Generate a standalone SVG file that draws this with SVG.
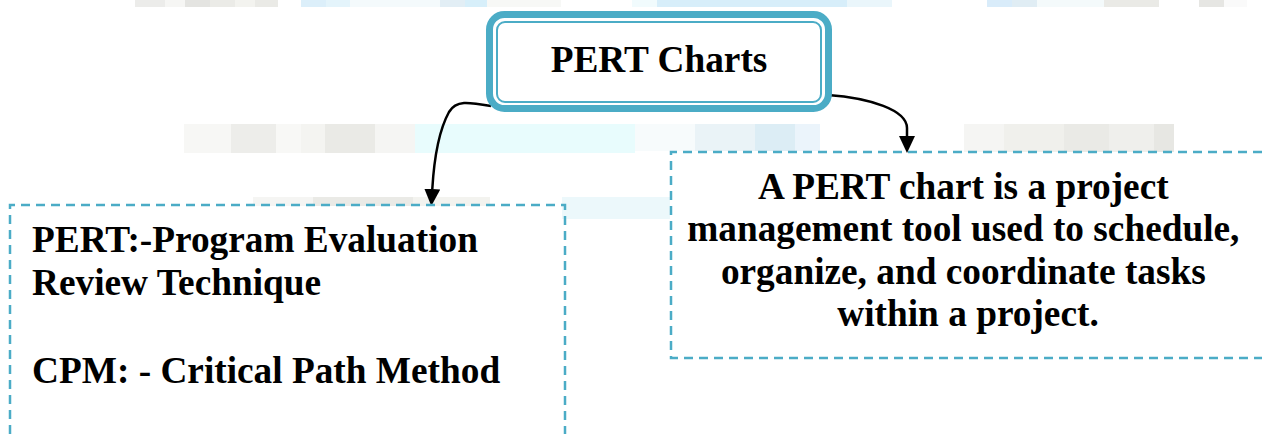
<svg xmlns="http://www.w3.org/2000/svg" width="1262" height="434" viewBox="0 0 1262 434">
<defs>
<style>
.t{font-family:"Liberation Serif","Times New Roman",serif;font-weight:bold;font-size:37.3px;fill:#000}
.dash{fill:none;stroke:#4bacc6;stroke-width:2.5;stroke-dasharray:9 6}
.conn{fill:none;stroke:#000;stroke-width:2.5}
</style>
<marker id="ah" markerWidth="17" markerHeight="16" refX="0" refY="8" orient="auto" markerUnits="userSpaceOnUse" viewBox="0 0 17 16">
<path d="M0,0 L17,8 L0,16 Z" fill="#000"/>
</marker>
</defs>
<rect width="1262" height="434" fill="#fff"/>
<g id="background" opacity="0.9">
<rect x="135" y="0" width="30" height="7" fill="#ebebe8"/>
<rect x="165" y="0" width="20" height="7" fill="#f6f6f3"/>
<rect x="185" y="0" width="25" height="7" fill="#e2e2de"/>
<rect x="210" y="0" width="25" height="7" fill="#e9e9e5"/>
<rect x="235" y="0" width="20" height="7" fill="#f2f2ee"/>
<rect x="255" y="0" width="23" height="7" fill="#e8e8e4"/>
<rect x="301" y="0" width="25" height="7" fill="#d9eefa"/>
<rect x="326" y="0" width="24" height="7" fill="#e2f3fb"/>
<rect x="350" y="0" width="90" height="7" fill="#f3fafc"/>
<rect x="440" y="0" width="25" height="7" fill="#dfedf4"/>
<rect x="465" y="0" width="22" height="7" fill="#d3eefa"/>
<rect x="487" y="0" width="74" height="7" fill="#f7f8f6"/>
<rect x="632" y="0" width="25" height="7" fill="#f0fbfd"/>
<rect x="657" y="0" width="190" height="7" fill="#d3edfa"/>
<rect x="847" y="0" width="45" height="7" fill="#e8f6fb"/>
<rect x="987" y="0" width="25" height="7" fill="#d5ebfa"/>
<rect x="1012" y="0" width="25" height="7" fill="#ddecf3"/>
<rect x="1037" y="0" width="67" height="7" fill="#f3fafb"/>
<rect x="1104" y="0" width="55" height="7" fill="#e8e8e4"/>
<rect x="1199" y="0" width="25" height="7" fill="#e4e4e0"/>
<rect x="1224" y="0" width="23" height="7" fill="#fafafa"/>
<rect x="184" y="124" width="47" height="29" fill="#f7f7f4"/>
<rect x="231" y="124" width="45" height="29" fill="#ececE8"/>
<rect x="276" y="124" width="25" height="29" fill="#f8f8f6"/>
<rect x="301" y="124" width="24" height="29" fill="#f3f3f0"/>
<rect x="325" y="124" width="50" height="29" fill="#e8e8e4"/>
<rect x="375" y="124" width="40" height="29" fill="#f5f5f2"/>
<rect x="415" y="124" width="220" height="29" fill="#e6fcfd"/>
<rect x="635" y="124" width="60" height="27" fill="#f7fbfc"/>
<rect x="695" y="124" width="60" height="27" fill="#e8f2f7"/>
<rect x="755" y="124" width="40" height="27" fill="#d9ecf5"/>
<rect x="795" y="124" width="25" height="27" fill="#e9f3fb"/>
<rect x="964" y="124" width="40" height="28" fill="#f5f5f2"/>
<rect x="1004" y="124" width="60" height="28" fill="#efefeb"/>
<rect x="1064" y="124" width="45" height="28" fill="#e8e8e4"/>
<rect x="1109" y="124" width="45" height="28" fill="#eeeeea"/>
<rect x="1154" y="124" width="20" height="28" fill="#e5e5e1"/>
<rect x="253" y="197" width="60" height="9" fill="#f5f5f2"/>
<rect x="313" y="197" width="100" height="9" fill="#e8e8e4"/>
<rect x="413" y="197" width="77" height="9" fill="#f2f2ee"/>
<rect x="562" y="197" width="108" height="22" fill="#eaf8fb"/>
</g>
<g id="connectors">
<path class="conn" d="M491,106 C468,102 456,100 449,112 C438,132 434,160 432.3,189" marker-end="url(#ah)"/>
<path class="conn" d="M828,95 C870,98 907,110 907,128 L907,136" marker-end="url(#ah)"/>
</g>
<g id="node-pert-charts">
<rect x="489.5" y="14.5" width="339" height="94" rx="15" ry="15" fill="#fff" stroke="#4bacc6" stroke-width="7"/>
<rect x="497" y="22" width="324" height="80" rx="8" ry="8" fill="none" stroke="#4bacc6" stroke-width="2"/>
<text class="t" x="659" y="72" text-anchor="middle">PERT Charts</text>
</g>
<g id="node-acronyms">
<path class="dash" d="M10,434 L10,205 L565,205 L565,434"/>
<text class="t" x="32" y="252">PERT:-Program Evaluation</text>
<text class="t" x="32" y="295">Review Technique</text>
<text class="t" x="32" y="383">CPM: - Critical Path Method</text>
</g>
<g id="node-definition">
<path class="dash" d="M1262,152 L671,152 L671,358 L1262,358"/>
<text class="t" text-anchor="middle">
<tspan x="968" y="199">A PERT chart is a project</tspan>
<tspan x="968" y="241">management tool used to schedule,</tspan>
<tspan x="968" y="284">organize, and coordinate tasks</tspan>
<tspan x="968" y="326">within a project.</tspan>
</text>
</g>
</svg>
